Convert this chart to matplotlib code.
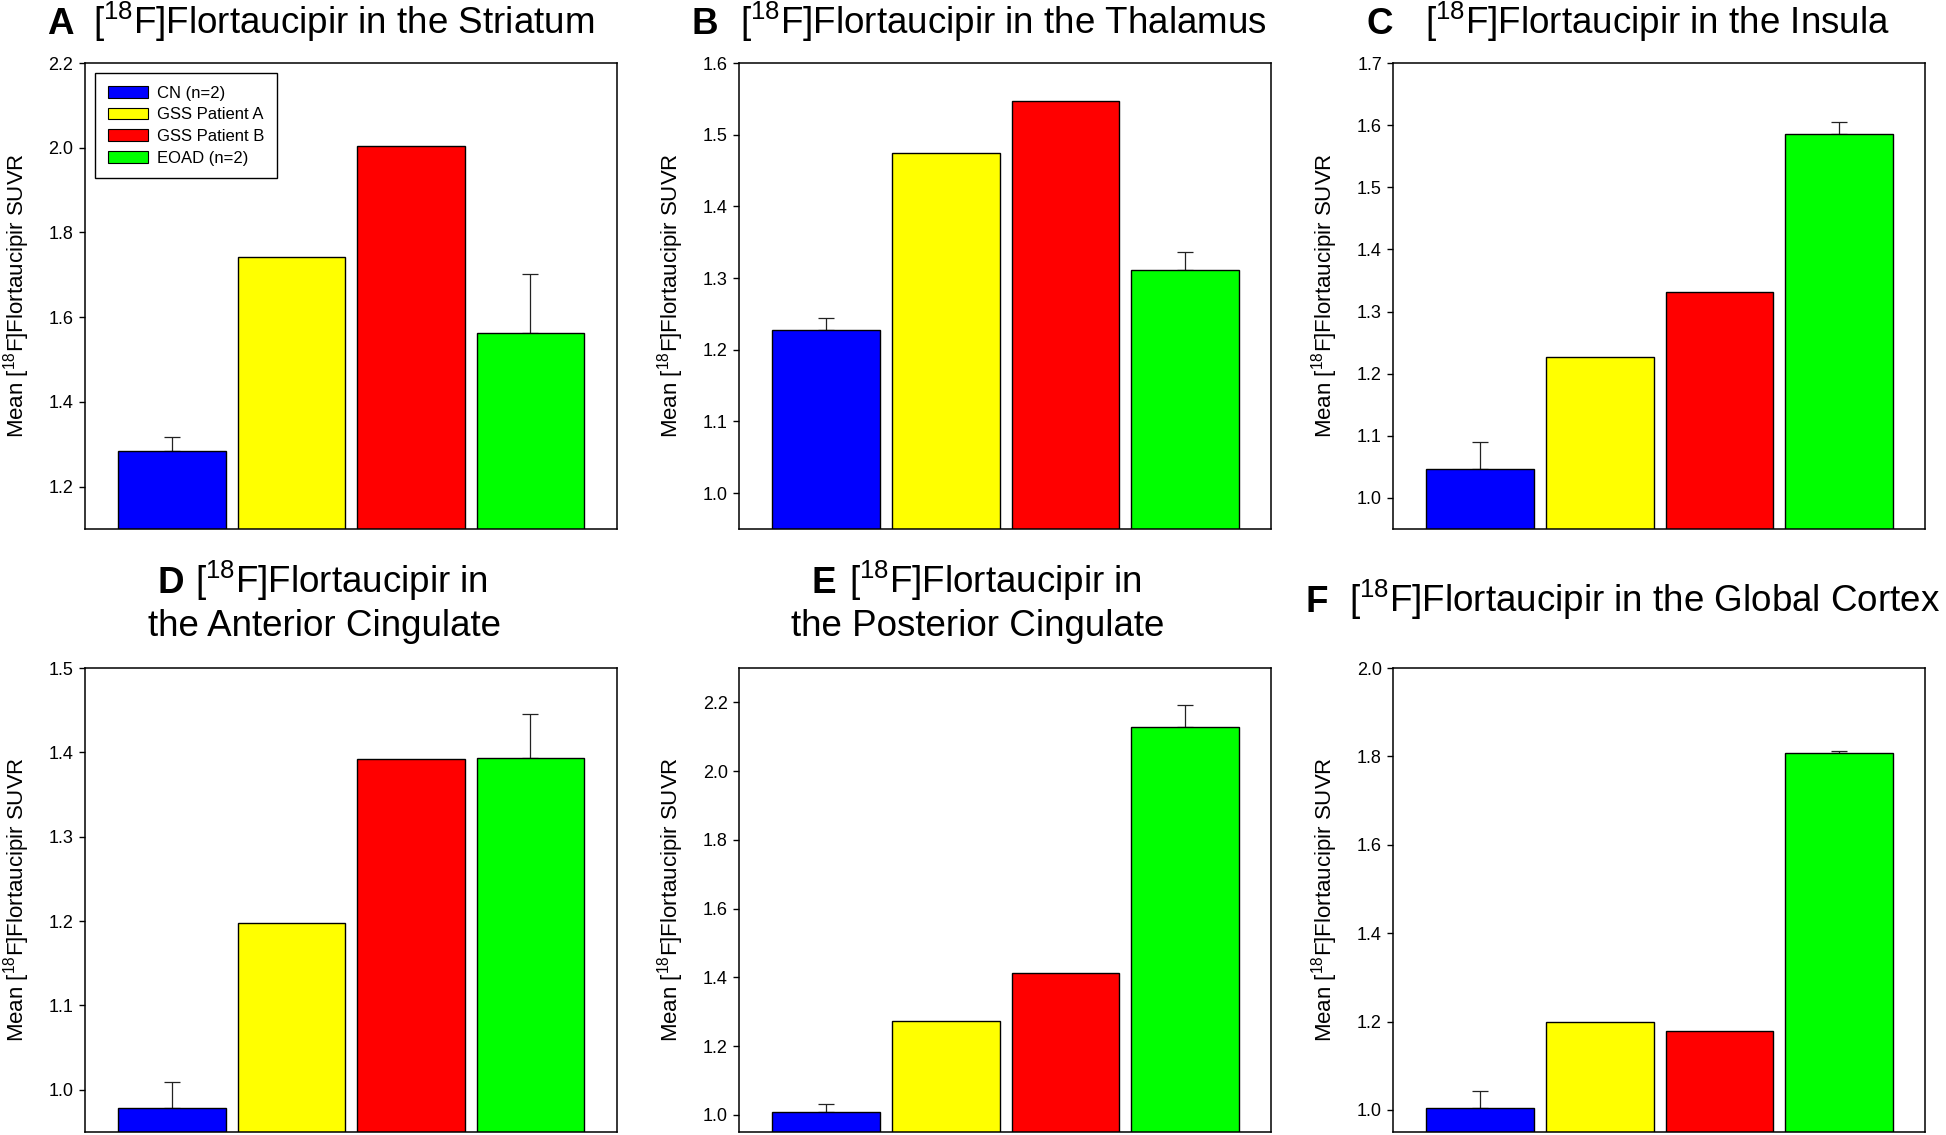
import numpy as np
import matplotlib
matplotlib.use('Agg')
import matplotlib.pyplot as plt
from matplotlib.patches import Patch

plt.rcParams['font.family'] = ['Liberation Sans', 'DejaVu Sans']
plt.rcParams['mathtext.fontset'] = 'custom'
plt.rcParams['mathtext.rm'] = 'Liberation Sans'
plt.rcParams['mathtext.it'] = 'Liberation Sans:italic'
plt.rcParams['mathtext.bf'] = 'Liberation Sans:bold'

groups = ['CN (n=2)', 'GSS Patient A', 'GSS Patient B', 'EOAD (n=2)']
colors = ['#0000FF', '#FFFF00', '#FF0000', '#00FF00']

# mean SUVR per group, upper error (only CN and EOAD have n=2)
striatum = [1.285, 1.742, 2.005, 1.563]
striatum_err = [0.033, 0, 0, 0.140]
thalamus = [1.228, 1.475, 1.547, 1.311]
thalamus_err = [0.017, 0, 0, 0.025]
insula = [1.047, 1.227, 1.332, 1.585]
insula_err = [0.043, 0, 0, 0.020]
ant_cingulate = [0.978, 1.198, 1.392, 1.393]
ant_cingulate_err = [0.031, 0, 0, 0.053]
post_cingulate = [1.008, 1.272, 1.413, 2.127]
post_cingulate_err = [0.024, 0, 0, 0.065]
global_cortex = [1.005, 1.200, 1.178, 1.808]
global_cortex_err = [0.038, 0, 0, 0.005]

sup = r'[$^{18}$F]Flortaucipir'
panels = [
    ('A', [sup + ' in the Striatum'], striatum, striatum_err, (1.1, 2.2), np.arange(1.2, 2.21, 0.2)),
    ('B', [sup + ' in the Thalamus'], thalamus, thalamus_err, (0.95, 1.6), np.arange(1.0, 1.61, 0.1)),
    ('C', [sup + ' in the Insula'], insula, insula_err, (0.95, 1.7), np.arange(1.0, 1.71, 0.1)),
    ('D', [sup + ' in', 'the Anterior Cingulate'], ant_cingulate, ant_cingulate_err, (0.95, 1.5), np.arange(1.0, 1.51, 0.1)),
    ('E', [sup + ' in', 'the Posterior Cingulate'], post_cingulate, post_cingulate_err, (0.95, 2.3), np.arange(1.0, 2.21, 0.2)),
    ('F', [sup + ' in the Global Cortex'], global_cortex, global_cortex_err, (0.95, 2.0), np.arange(1.0, 2.01, 0.2)),
]

# title placement in pixels: letter left, first line left, first baseline, second line centre, second baseline
title_pos = [
    (47, 93, 34, None, None),
    (692, 740, 34, None, None),
    (1366, 1425, 34, None, None),
    (157, 195, 593, 325, 636),
    (811, 849, 593, 978, 636),
    (1306, 1349, 612, None, None),
]

W, H = 1946, 1135
fig = plt.figure(figsize=(W / 100, H / 100), dpi=100)

col_left = [84.5, 739, 1393]
col_width = 532
row_top = [63, 668]
row_bottom = [529, 1132]
title_size = 26.5

x = np.arange(4)
for i, (letter, title, vals, errs, ylim, ticks) in enumerate(panels):
    r, c = divmod(i, 3)
    left = col_left[c] / W
    bottom = 1 - row_bottom[r] / H
    height = (row_bottom[r] - row_top[r]) / H
    ax = fig.add_axes([left, bottom, col_width / W, height])

    ax.bar(x, vals, width=0.9, color=colors, edgecolor='black', linewidth=1.0, zorder=2)
    for xi, v, e in zip(x, vals, errs):
        if e > 0:
            ax.errorbar(xi, v, yerr=[[0], [e]], fmt='none', ecolor='#222222',
                        elinewidth=0.9, capsize=5.8, capthick=0.9, zorder=1)

    ax.set_xlim(-0.73, 3.72)
    ax.set_ylim(*ylim)
    ax.set_yticks(ticks)
    ax.set_yticklabels(['%.1f' % t for t in ticks])
    ax.set_xticks([])
    ax.tick_params(axis='y', direction='out', length=4, width=1.0, labelsize=13, pad=4)
    for s in ax.spines.values():
        s.set_linewidth(1.1)
    ax.set_ylabel(r'Mean [$^{18}$F]Flortaucipir SUVR', fontsize=16, labelpad=12)

    lx, tx, ty, cx2, ty2 = title_pos[i]
    fig.text(lx / W, 1 - ty / H, letter, fontsize=title_size, fontweight='bold',
             ha='left', va='baseline')
    fig.text(tx / W, 1 - ty / H, title[0], fontsize=title_size, ha='left', va='baseline')
    if len(title) > 1:
        fig.text(cx2 / W, 1 - ty2 / H, title[1], fontsize=title_size, ha='center', va='baseline')

    if i == 0:
        handles = [Patch(facecolor=col, edgecolor='black', linewidth=0.8) for col in colors]
        ax.legend(handles, groups, loc='upper left', bbox_to_anchor=(0.02, 0.978),
                  borderaxespad=0, fontsize=12, handlelength=2.4, handleheight=0.7,
                  handletextpad=0.55, labelspacing=0.4, borderpad=0.75,
                  fancybox=False, edgecolor='black', framealpha=1)

fig.savefig('out.png', dpi=100)
